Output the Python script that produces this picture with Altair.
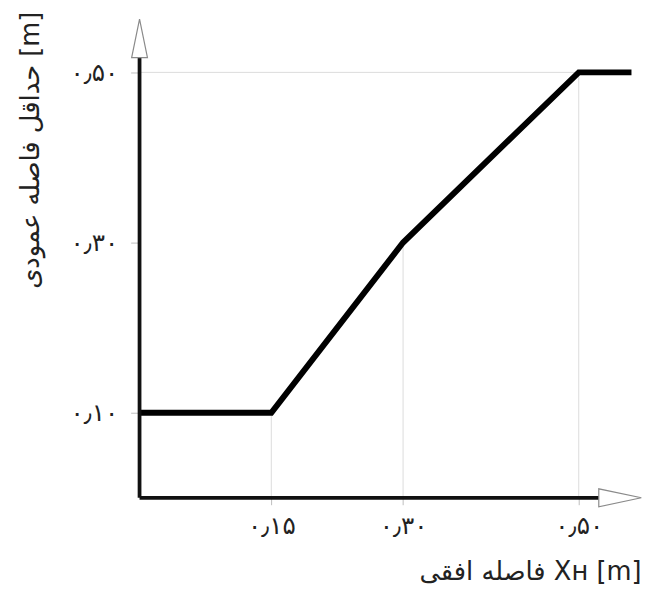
import altair as alt
import pandas as pd

# ---- data ----
x_vals = [0.0, 0.15, 0.30, 0.50, 0.560]
y_vals = [0.10, 0.10, 0.30, 0.50, 0.50]

x_ticks = [0.15, 0.30, 0.50]
x_tick_labels = ["۰٫۱۵", "۰٫۳۰", "۰٫۵۰"]
y_ticks = [0.10, 0.30, 0.50]
y_tick_labels = ["۰٫۱۰", "۰٫۳۰", "۰٫۵۰"]

x_title = "فاصله افقی Xʜ [m]"
y_title = "حداقل فاصله عمودی [m]"

# drop lines from the corner points, horizontal guide at the top level
drop_x = [0.15, 0.30, 0.50]
drop_y = [0.10, 0.30, 0.50]
guide_h_y = [0.50]
guide_h_x2 = [0.50]

# axis extents (arrow bases / arrow centres) in data units
x_domain = [0, 0.572]
y_domain = [0, 0.565]
x_axis_end = 0.523
y_axis_end = 0.517
x_arrow_pos = 0.547
y_arrow_pos = 0.540

FONT = "DejaVu Sans"


def label_expr(vals, labels):
    expr = "''"
    for v, l in reversed(list(zip(vals, labels))):
        expr = f"datum.value == {v} ? '{l}' : ({expr})"
    return expr


xs = alt.Scale(domain=x_domain, nice=False, zero=False)
ys = alt.Scale(domain=y_domain, nice=False, zero=False)

x_axis = alt.Axis(
    values=x_ticks,
    labelExpr=label_expr(x_ticks, x_tick_labels),
    domain=False,
    grid=False,
    ticks=True,
    tickColor="#bdbdbd",
    tickSize=7,
    tickWidth=1,
    labelPadding=9,
    labelFont=FONT,
    labelFontSize=25,
    labelColor="#222",
    title=x_title,
    titleFont=FONT,
    titleFontSize=26,
    titleFontWeight="normal",
    titleColor="#222",
    titleAlign="right",
    titleBaseline="alphabetic",
    titleX=507,
    titleY=83,
)
y_axis = alt.Axis(
    values=y_ticks,
    labelExpr=label_expr(y_ticks, y_tick_labels),
    domain=False,
    grid=False,
    ticks=True,
    tickColor="#bdbdbd",
    tickSize=9,
    tickWidth=1,
    labelPadding=13,
    labelFont=FONT,
    labelFontSize=25,
    labelColor="#222",
    title=y_title,
    titleFont=FONT,
    titleFontSize=26,
    titleFontWeight="normal",
    titleColor="#222",
    titleAngle=-90,
    titleAlign="right",
    titleBaseline="middle",
    titleX=-110,
    titleY=-6,
)

line_df = pd.DataFrame({"x": x_vals, "y": y_vals})
drop_df = pd.DataFrame({"x": drop_x, "y0": [0.0] * len(drop_x), "y": drop_y})
guide_df = pd.DataFrame({"y": guide_h_y, "x": [0.0], "x2": guide_h_x2})
xaxis_df = pd.DataFrame({"x": [0.0], "x2": [x_axis_end], "y": [0.0]})
yaxis_df = pd.DataFrame({"x": [0.0], "y": [0.0], "y2": [y_axis_end]})
xarrow_df = pd.DataFrame({"x": [x_arrow_pos], "y": [0.0]})
yarrow_df = pd.DataFrame({"x": [0.0], "y": [y_arrow_pos]})

grid_col = "#dcdcdc"

X = alt.X("x:Q", scale=xs, axis=x_axis)
Y = alt.Y("y:Q", scale=ys, axis=y_axis)

drops = alt.Chart(drop_df).mark_rule(color=grid_col, strokeWidth=1).encode(
    x=X, y=alt.Y("y0:Q", scale=ys, axis=y_axis), y2="y:Q"
)
guides = alt.Chart(guide_df).mark_rule(color=grid_col, strokeWidth=1).encode(
    x=X, x2="x2:Q", y=Y
)

line = alt.Chart(line_df).mark_line(
    color="black", strokeWidth=6, strokeJoin="miter", strokeCap="butt"
).encode(x=X, y=Y)

xaxis = alt.Chart(xaxis_df).mark_rule(color="#111", strokeWidth=3.8).encode(
    x=X, x2="x2:Q", y=Y
)
yaxis = alt.Chart(yaxis_df).mark_rule(color="#111", strokeWidth=3.8).encode(
    x=X, y=Y, y2="y2:Q"
)

xarrow = alt.Chart(xarrow_df).mark_point(
    shape="M1,0L-1,-0.42L-1,0.42Z",
    size=1849,
    filled=True,
    fill="white",
    stroke="#8a8a8a",
    strokeWidth=1.2,
    opacity=1,
).encode(x=X, y=Y)
yarrow = alt.Chart(yarrow_df).mark_point(
    shape="M0,-1L0.41,1L-0.41,1Z",
    size=1521,
    filled=True,
    fill="white",
    stroke="#8a8a8a",
    strokeWidth=1.2,
    opacity=1,
).encode(x=X, y=Y)

chart = (
    alt.layer(drops, guides, line, xaxis, yaxis, xarrow, yarrow)
    .properties(
        width=508,
        height=486,
        autosize=alt.AutoSizeParams(type="none"),
        padding={"left": 133, "top": 6, "right": 1, "bottom": 86},
        background="white",
    )
    .configure_view(stroke=None)
)

chart.save("out.html", embed_options={"renderer": "svg", "actions": False})
